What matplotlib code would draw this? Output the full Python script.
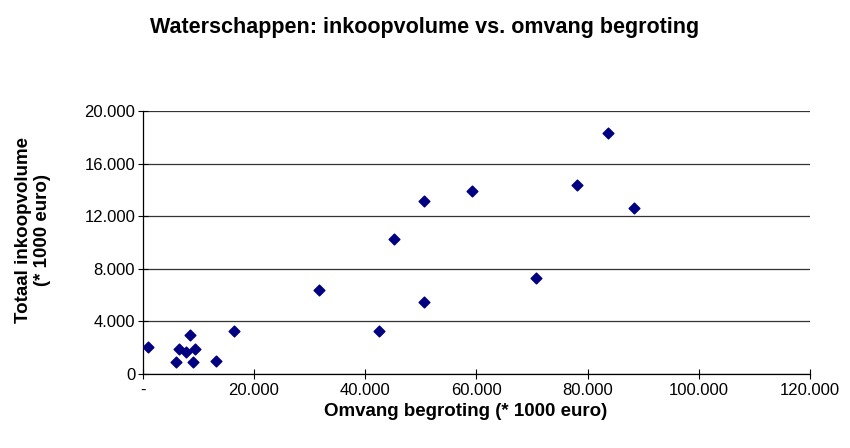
import matplotlib.pyplot as plt
from matplotlib.ticker import FuncFormatter

plt.rcParams['font.family'] = ['Liberation Sans', 'DejaVu Sans']

# begroting (x) and inkoopvolume (y), both * 1000 euro
begroting = [960, 5900, 6500, 7700, 8500, 9050, 9400, 13100, 16400,
             31600, 42500, 45200, 50600, 50600, 59200, 70700, 78000, 83700, 88300]
inkoop = [2080, 910, 1930, 1700, 2990, 910, 1930, 1010, 3300,
          6390, 3300, 10270, 5450, 13200, 13900, 7300, 14350, 18300, 12650]

x_ticks = [0, 20000, 40000, 60000, 80000, 100000, 120000]
y_ticks = [0, 4000, 8000, 12000, 16000, 20000]


def nl(v):
    return f'{int(v):,}'.replace(',', '.')


fig = plt.figure(figsize=(8.5, 4.48), dpi=100)
ax = fig.add_axes([0.168, 0.165, 0.785, 0.587])

ax.scatter(begroting, inkoop, marker='D', s=30, color='#000080', zorder=3)

ax.set_xlim(0, 120000)
ax.set_ylim(0, 20000)
ax.set_xticks(x_ticks)
ax.set_yticks(y_ticks)
ax.xaxis.set_major_formatter(FuncFormatter(lambda v, p: '-' if v == 0 else nl(v)))
ax.yaxis.set_major_formatter(FuncFormatter(lambda v, p: nl(v)))
ax.tick_params(direction='inout', length=7, width=0.8, labelsize=12, colors='black')
ax.tick_params(axis='y', pad=2)
ax.tick_params(axis='x', pad=3)

ax.yaxis.grid(True, color='#333333', linewidth=0.9)
ax.set_axisbelow(True)
for s in ['top', 'right']:
    ax.spines[s].set_visible(False)
ax.spines['left'].set_linewidth(0.9)
ax.spines['bottom'].set_linewidth(0.9)

fig.text(0.548, 1 - 411 / 448, 'Omvang begroting (* 1000 euro)',
         ha='center', va='center', fontsize=13.5, fontweight='bold')
fig.text(33 / 850, 1 - 230 / 448, 'Totaal inkoopvolume\n(* 1000 euro)', rotation=90,
         ha='center', va='center', fontsize=13.5, fontweight='bold', linespacing=1.1)
fig.text(0.5, 1 - 27 / 448, 'Waterschappen: inkoopvolume vs. omvang begroting',
         ha='center', va='center', fontsize=15.5, fontweight='bold')

fig.savefig('out.png', dpi=100)
